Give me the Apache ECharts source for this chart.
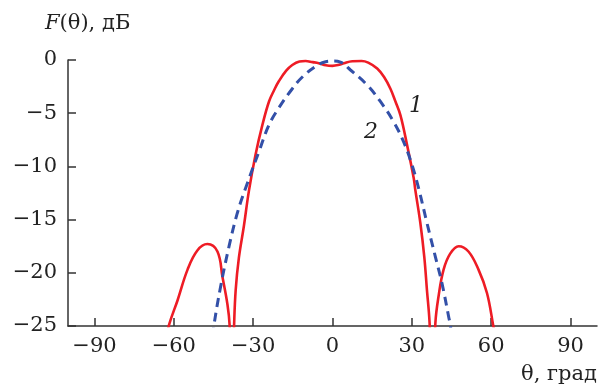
<!DOCTYPE html>
<html>
<head>
<meta charset="utf-8">
<script src="https://cdn.jsdelivr.net/npm/echarts@6/dist/echarts.min.js"></script>
<style>
html,body{margin:0;padding:0;background:#fff;}
#chart{width:599px;height:391px;}
</style>
</head>
<body>
<div id="chart"></div>
<script>
// кривая 1 (сплошная красная): угол, град
var theta1 = [-62.5, -61.8, -58.6, -54.8, -51.1, -47.3, -43.5, -41.6, -39.7, -38.9, -38.0,
	-37.2, -36.6, -35.4, -33.5, -31.6, -29.1, -26.5, -24.0, -22.0, -20.3, -17.5, -15.2, -12.5, -10.2, -7.5, -5.2, -2.5,
	0, 2.5, 4.3, 7.5, 11.0, 13.5, 16.9, 19.5, 21.9, 23.8, 25.7, 28.2, 30.7, 31.3, 33.2, 34.7, 35.7, 36.7, 37.8,
	38.9, 40.1, 42.0, 44.5, 47.7, 51.4, 55.2, 58.4, 60.8, 61.5];
// кривая 1: F, дБ
var level1 = [-26, -24.9, -22.6, -19.7, -17.9, -17.3, -18.0, -20.4, -23.0, -24.9, -32,
	-24.9, -21.6, -18.6, -15.6, -12.3, -8.9, -6.1, -3.9, -2.8, -2.0, -1.0, -0.47, -0.15, -0.1, -0.2, -0.3, -0.5,
	-0.55, -0.45, -0.3, -0.12, -0.1, -0.25, -0.8, -1.6, -2.7, -3.9, -5.2, -8.0, -11.1, -12.2, -15.3, -18.5, -21.6, -24.7, -32,
	-24.7, -22.2, -19.7, -18.2, -17.5, -18.0, -19.7, -21.9, -25, -26];

// кривая 2 (пунктир синий)
var theta2 = [-45.2, -44.8, -42.3, -39.1, -36.0, -32.8, -27.8, -24.0, -20.3, -15.2, -11.4, -6.4, -2.6,
	0, 3.0, 6.8, 13.1, 18.1, 23.1, 26.9, 30.1, 32.6, 35.7, 38.9, 41.4, 43.9, 44.6, 45.0];
var level2 = [-26, -24.9, -21.3, -17.5, -14.4, -12.0, -8.6, -6.1, -4.5, -2.7, -1.6, -0.6, -0.16,
	-0.1, -0.2, -0.94, -2.35, -3.9, -5.8, -7.7, -9.9, -12.1, -15.3, -18.5, -21.0, -24.1, -25, -26];

var xTicks = [-90, -60, -30, 0, 30, 60, 90];

function pairs(xs, ys) {
	var out = [];
	for (var i = 0; i < xs.length; i++) {
		out.push([xs[i], ys[i]]);
	}
	return out;
}

var font = '"DejaVu Serif", "Liberation Serif", serif';
var axisColor = '#333';

var chart = echarts.init(document.getElementById('chart'));
chart.setOption({
	animation: false,
	grid: {left: 68, right: 2, top: 60, bottom: 65},
	xAxis: {
		type: 'value',
		min: -100,
		max: 100,
		axisLine: {onZero: false, lineStyle: {color: axisColor, width: 1.5}},
		axisTick: {inside: true, length: 8, customValues: xTicks, lineStyle: {color: axisColor, width: 1.5}},
		axisLabel: {
			customValues: xTicks,
			margin: 10,
			color: '#222',
			fontFamily: font,
			fontSize: 21,
			formatter: function (v) { return String(v).replace('-', '\u2212'); }
		},
		splitLine: {show: false}
	},
	yAxis: {
		type: 'value',
		min: -25,
		max: 0,
		interval: 5,
		axisLine: {show: true, onZero: false, lineStyle: {color: axisColor, width: 1.5}},
		axisTick: {show: true, inside: true, length: 8, lineStyle: {color: axisColor, width: 1.5}},
		axisLabel: {
			margin: 11,
			color: '#222',
			fontFamily: font,
			fontSize: 21,
			formatter: function (v) { return String(v).replace('-', '\u2212'); }
		},
		splitLine: {show: false}
	},
	graphic: [
		{
			type: 'text', left: 45, top: 13,
			style: {
				text: '{i|F}(θ), дБ',
				font: '21px ' + font,
				fill: '#222',
				rich: {i: {fontStyle: 'italic', fontFamily: font, fontSize: 21, fill: '#222'}}
			}
		},
		{
			type: 'text', right: 2, top: 364,
			style: {text: 'θ, град', font: '21px ' + font, fill: '#222'}
		},
		{
			type: 'text', left: 409, top: 95,
			style: {text: '1', font: 'italic 22px ' + font, fill: '#222'}
		},
		{
			type: 'text', left: 364, top: 121,
			style: {text: '2', font: 'italic 22px ' + font, fill: '#222'}
		}
	],
	series: [
		{
			name: '1',
			type: 'line',
			data: pairs(theta1, level1),
			smooth: 0.4,
			showSymbol: false,
			clip: true,
			lineStyle: {color: '#EE1C25', width: 2.6}
		},
		{
			name: '2',
			type: 'line',
			data: pairs(theta2, level2),
			smooth: 0.4,
			showSymbol: false,
			clip: true,
			lineStyle: {color: '#3350A8', width: 3, type: [9, 6]}
		}
	]
});
</script>
</body>
</html>
